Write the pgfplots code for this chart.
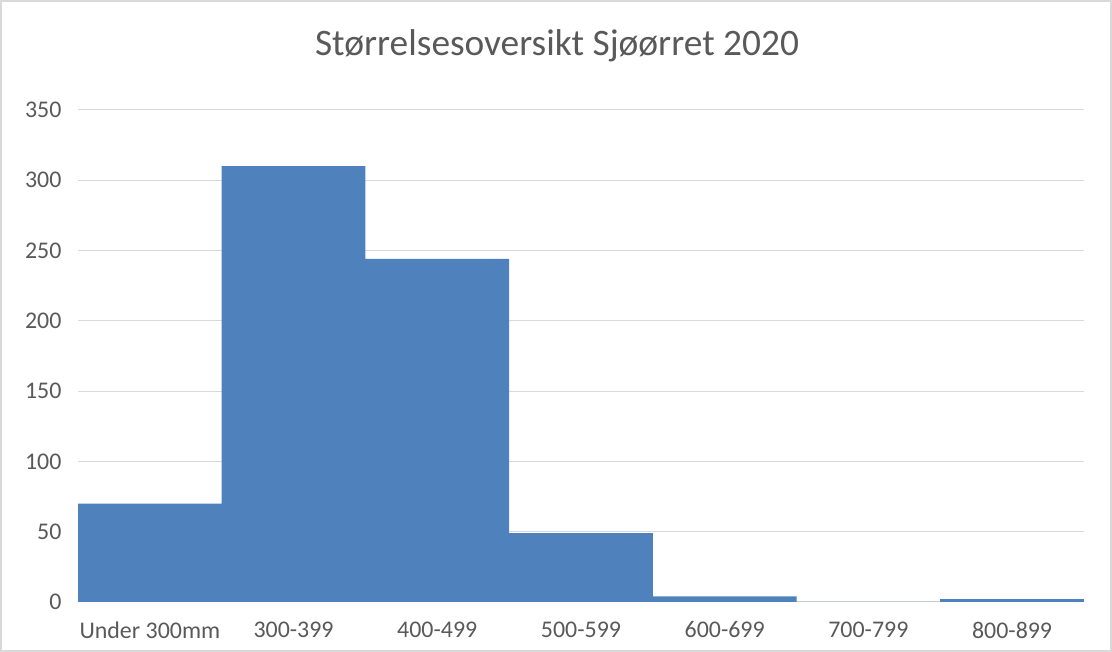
\documentclass[border=0pt]{standalone}
\usepackage{pgfplots}
\pgfplotsset{compat=1.18}
\usepackage{fontspec}
\setmainfont{Carlito}
\definecolor{barblue}{RGB}{79,129,189}
\definecolor{txtgray}{RGB}{89,89,89}
\definecolor{gridgray}{RGB}{217,217,217}
\begin{document}
\begin{tikzpicture}[x=1bp,y=1bp]
\path[use as bounding box] (0,0) rectangle (1112,652);
\draw[gridgray,line width=1.2bp] (1,1) rectangle (1111,651);
\node[text=txtgray,font=\fontsize{37.5}{44}\selectfont] at (557,606) {Størrelsesoversikt Sjøørret 2020};
\begin{axis}[
  at={(78bp,50bp)}, anchor=south west,
  scale only axis, width=1006bp, height=492bp,
  xmin=-0.5, xmax=6.5, ymin=0, ymax=350,
  ytick={0,50,...,350},
  xtick={0,...,6},
  xticklabels={Under 300mm,300-399,400-499,500-599,600-699,700-799,800-899},
  axis line style={draw=none},
  axis x line*=bottom,
  x axis line style={draw=gridgray,line width=1bp},
  tick style={draw=none},
  ymajorgrids, grid style={gridgray,line width=1bp},
  ticklabel style={text=txtgray,font=\fontsize{24}{28}\selectfont},
  /pgf/number format/assume math mode=true,
  yticklabel style={anchor=east,xshift=-13bp},
  xticklabel style={anchor=north,yshift=-12bp},
  ybar, bar width=1, bar shift=0pt,
]
\addplot[fill=barblue,draw=none] coordinates {
(0,70) (1,310) (2,244) (3,49) (4,4) (5,0) (6,2)};
\end{axis}
\end{tikzpicture}
\end{document}
